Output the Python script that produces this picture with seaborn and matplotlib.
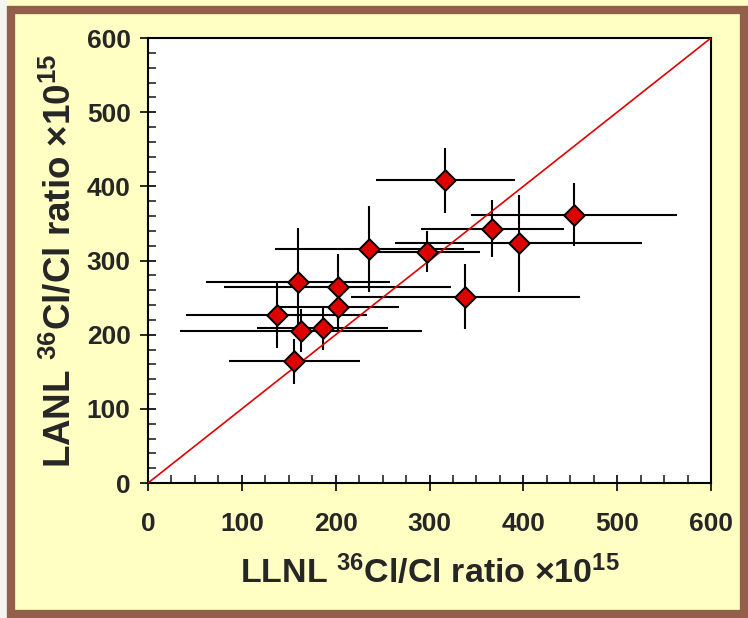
import numpy as np
import pandas as pd
import seaborn as sns
import matplotlib.pyplot as plt
from matplotlib.patches import Rectangle
from matplotlib.ticker import MultipleLocator

# values
llnl = [236, 297, 395, 367, 454, 317, 338, 160, 202, 202, 137, 163, 186, 156]
lanl = [316, 312, 323, 343, 362, 408, 251, 271, 264, 237, 226, 205, 209, 164]
llnl_err = [101, 57, 132, 76, 110, 74, 122, 98, 121, 65, 96, 129, 70, 70]
lanl_err = [58, 28, 65, 38, 42, 44, 44, 73, 45, 31, 44, 29, 30, 30]
axis_range = [0, 600]

df = pd.DataFrame({"llnl": llnl, "lanl": lanl, "xerr": llnl_err, "yerr": lanl_err})

sns.set_style("ticks")
plt.rcParams["font.family"] = ["Liberation Sans", "DejaVu Sans"]
plt.rcParams["font.weight"] = "bold"
plt.rcParams["mathtext.fontset"] = "custom"
plt.rcParams["mathtext.rm"] = "Liberation Sans:bold"
plt.rcParams["mathtext.default"] = "rm"

yellow = "#FFFFC4"
brown = "#935F4B"

fig = plt.figure(figsize=(7.48, 6.18), dpi=100, facecolor=yellow)
ax = fig.add_axes([0.1979, 0.2184, 0.7526, 0.7201])
ax.set_facecolor("white")

# frame around the slide
fig.patches.append(Rectangle((0, 0), 7 / 748, 1, transform=fig.transFigure,
                             facecolor="#F4F4F0", edgecolor="none", zorder=0))
fig.patches.append(Rectangle((10.5 / 748, 4.5 / 618), 733 / 748, 604 / 618,
                             transform=fig.transFigure, fill=False,
                             edgecolor=brown, linewidth=6, zorder=1))

ax.errorbar(df["llnl"], df["lanl"], xerr=df["xerr"], yerr=df["yerr"],
            fmt="none", ecolor="black", elinewidth=1.5, capsize=0, zorder=2)
ax.plot(axis_range, axis_range, color="#E00000", linewidth=1.2, zorder=3)
sns.scatterplot(data=df, x="llnl", y="lanl", marker="D", s=110, color="#DD0000",
                edgecolor="black", linewidth=1.4, zorder=4, ax=ax)

ax.set_xlim(axis_range)
ax.set_ylim(axis_range)
ax.xaxis.set_major_locator(MultipleLocator(100))
ax.yaxis.set_major_locator(MultipleLocator(100))
ax.xaxis.set_minor_locator(MultipleLocator(25))
ax.yaxis.set_minor_locator(MultipleLocator(20))
ax.tick_params(which="major", direction="inout", length=11, width=1.4,
               labelsize=19, top=False, right=False)
ax.tick_params(axis="x", which="major", pad=15)
ax.tick_params(axis="y", which="major", pad=7)
ax.tick_params(which="minor", direction="in", length=5.5, width=1.2,
               top=False, right=False)
for lab in ax.get_xticklabels() + ax.get_yticklabels():
    lab.set_fontweight("bold")
for sp in ax.spines.values():
    sp.set_linewidth(1.5)
    sp.set_color("black")

ax.set_xlabel(r"LLNL $^{36}$Cl/Cl ratio ×10$^{15}$", fontsize=24.5,
              fontweight="bold", labelpad=14)
ax.set_ylabel(r"LANL $^{36}$Cl/Cl ratio ×10$^{15}$", fontsize=26.5,
              fontweight="bold", labelpad=6)

plt.savefig("out.png", dpi=100, facecolor=yellow)
plt.close()
